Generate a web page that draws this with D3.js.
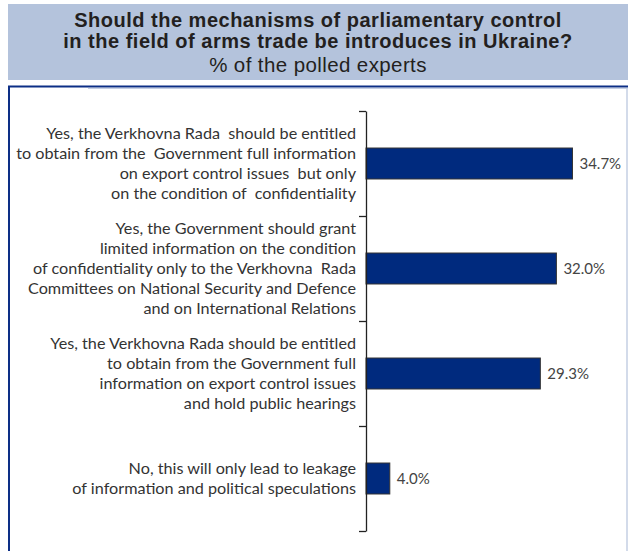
<!DOCTYPE html>
<html>
<head>
<meta charset="utf-8">
<script src="https://cdn.jsdelivr.net/npm/d3@7"></script>
<style>
  body { margin: 0; background: #fff; }
  svg { display: block; }
</style>
</head>
<body>
<div id="chart"></div>
<script>
// chart data
var categories = [
  ["Yes, the Verkhovna Rada  should be entitled", "to obtain from the  Government full information", "on export control issues  but only", "on the condition of  confidentiality"],
  ["Yes, the Government should grant", "limited information on the condition", "of confidentiality only to the Verkhovna  Rada", "Committees on National Security and Defence", "and on International Relations"],
  ["Yes, the Verkhovna Rada should be entitled", "to obtain from the Government full", "information on export control issues", "and hold public hearings"],
  ["No, this will only lead to leakage", "of information and political speculations"]
];
var values = [34.7, 32.0, 29.3, 4.0];
var titleLines = ["Should the mechanisms of parliamentary control", "in the field of arms trade be introduces in Ukraine?"];
var subtitle = "% of the polled experts";

var width = 628, height = 551;

var svg = d3.select("#chart").append("svg")
  .attr("width", width)
  .attr("height", height);

// header band
svg.append("rect")
  .attr("x", 8).attr("y", 4)
  .attr("width", width - 8).attr("height", 76)
  .attr("fill", "#b4c3dc");

var title = svg.append("g").attr("font-family", "'Liberation Sans', Arial, sans-serif")
  .attr("text-anchor", "middle").attr("fill", "#231f20");
title.selectAll("text.t")
  .data(titleLines)
  .enter().append("text")
  .attr("class", "t")
  .attr("x", 318)
  .attr("y", (d, i) => 26.5 + i * 21.5)
  .attr("font-size", 20)
  .attr("font-weight", "bold")
  .attr("letter-spacing", 0.5)
  .text(d => d);
title.append("text")
  .attr("x", 318).attr("y", 72)
  .attr("font-size", 20.5)
  .attr("letter-spacing", 0.4)
  .text(subtitle);

// frame
svg.append("line").attr("x1", 8).attr("x2", width).attr("y1", 86.5).attr("y2", 86.5)
  .attr("stroke", "#0d2f86").attr("stroke-width", 2);
svg.append("line").attr("x1", 88).attr("x2", width).attr("y1", 88.5).attr("y2", 88.5)
  .attr("stroke", "#c5cfe3").attr("stroke-width", 1);
svg.append("line").attr("x1", 9).attr("x2", 9).attr("y1", 86).attr("y2", height)
  .attr("stroke", "#0d2f86").attr("stroke-width", 2);
svg.append("line").attr("x1", 627).attr("x2", 627).attr("y1", 88).attr("y2", height)
  .attr("stroke", "#c5cfe3").attr("stroke-width", 1.5);

// scales
var x0 = 366;
var x = d3.scaleLinear().domain([0, 40]).range([x0, x0 + 238]);
var yEdge = d3.scaleLinear().domain([0, categories.length]).range([111, 531]);
var y = d3.scaleBand().domain(d3.range(categories.length)).range([111, 531])
  .paddingInner(0.705).paddingOuter(0.3525);

// bars
svg.selectAll("rect.bar")
  .data(values)
  .enter().append("rect")
  .attr("class", "bar")
  .attr("x", x(0))
  .attr("y", (d, i) => y(i))
  .attr("width", d => x(d) - x(0))
  .attr("height", y.bandwidth())
  .attr("fill", "#002a7e")
  .attr("stroke", "#333")
  .attr("stroke-width", 1);

// value labels
svg.selectAll("text.val")
  .data(values)
  .enter().append("text")
  .attr("class", "val")
  .attr("x", d => x(d) + 7)
  .attr("y", (d, i) => y(i) + y.bandwidth() / 2 + 5.5)
  .attr("font-family", "Lato, 'Noto Sans', sans-serif")
  .attr("font-size", 15)
  .attr("fill", "#444")
  .text(d => d.toFixed(1) + "%");

// axis with ticks at band edges
var axis = svg.append("g")
  .attr("transform", "translate(" + x0 + ",0)")
  .call(d3.axisLeft(yEdge).tickValues(d3.range(categories.length + 1)).tickSize(7).tickSizeOuter(0).tickFormat(""));
axis.selectAll("path, line").attr("stroke", "#222").attr("stroke-width", 1.3);

// category labels
var lineH = 20;
var labels = svg.selectAll("text.cat")
  .data(categories)
  .enter().append("text")
  .attr("class", "cat")
  .attr("text-anchor", "end")
  .attr("font-family", "Lato, 'Noto Sans', sans-serif")
  .attr("font-size", 16.2)
  .attr("fill", "#333")
  .attr("xml:space", "preserve");

labels.each(function(lines, i) {
  var cy = y(i) + y.bandwidth() / 2;
  var first = cy - (lines.length - 1) / 2 * lineH + 5;
  d3.select(this).selectAll("tspan")
    .data(lines)
    .enter().append("tspan")
    .attr("x", 356)
    .attr("y", (d, j) => first + j * lineH)
    .text(d => d);
});
</script>
</body>
</html>
